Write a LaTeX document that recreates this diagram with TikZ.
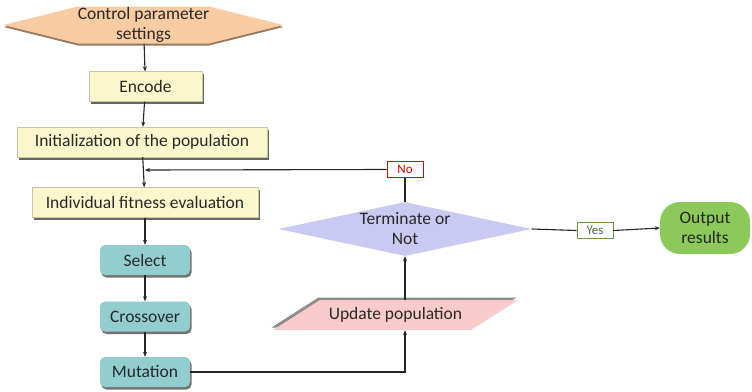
\documentclass[tikz,border=0pt]{standalone}
\usepackage{fontspec}
\setmainfont{Carlito}
\usetikzlibrary{shapes.geometric, shapes.symbols, shadows, arrows.meta}
\definecolor{peach}{RGB}{248,203,160}
\definecolor{cream}{RGB}{251,247,204}
\definecolor{teal}{RGB}{146,205,207}
\definecolor{lilac}{RGB}{201,201,242}
\definecolor{blush}{RGB}{248,202,202}
\definecolor{leaf}{RGB}{141,201,90}
\definecolor{ink}{RGB}{40,40,40}
\tikzstyle{every node}=[text=ink, font=\fontsize{17.5}{20}\selectfont, align=center]
\tikzstyle{stepbox}=[rectangle, fill=cream, draw=cream!80!black, line width=0.3pt, minimum height=30pt,
    drop shadow={shadow xshift=2pt, shadow yshift=-2.5pt, fill=black!60, opacity=1}]
\tikzstyle{opbox}=[rectangle, rounded corners=5pt, fill=teal, minimum width=90pt, minimum height=30pt,
    drop shadow={shadow xshift=1.5pt, shadow yshift=-2.5pt, fill=black!55, opacity=1}]
\tikzstyle{tag}=[rectangle, fill=white, line width=0.8pt, minimum height=16pt, inner sep=1pt, font=\fontsize{13}{14}\selectfont]
\tikzstyle{link}=[line width=1.1pt, black!85]
\tikzstyle{arrow}=[link, -{Stealth[length=5pt, width=4pt]}]

\begin{document}
\begin{tikzpicture}[x=1pt, y=-1pt]
\useasboundingbox (0,0) rectangle (752,391);
% Start
    \node[signal, signal to=west and east, signal pointer angle=28, fill=peach, minimum width=277pt,
        minimum height=37pt, inner sep=0pt, drop shadow={shadow xshift=0pt, shadow yshift=-2pt, fill=peach!60!black, opacity=1}]
        (params) at (143.5,25) {Control parameter\\settings};
% Main column
    \node[stepbox, minimum width=113pt] (encode) at (145.5,86.5) {Encode};
    \node[stepbox, minimum width=250pt] (init) at (142,142) {Initialization of the population};
    \node[stepbox, minimum width=226pt] (fitness) at (145,202.5) {Individual fitness evaluation};
    \node[opbox] (select) at (145,260) {Select};
    \node[opbox] (crossover) at (145,316.5) {Crossover};
    \node[opbox] (mutation) at (145,372) {Mutation};
% Parallelogram, shadow first
    \fill[black!45] (271.5,327.5) -- (318.5,297.5) -- (516.5,297.5) -- (469.5,327.5) -- cycle;
    \fill[blush] (273,330) -- (320,300) -- (518,300) -- (471,330) -- cycle;
    \node[rectangle, minimum width=245pt, minimum height=30pt, inner sep=0pt] (update) at (395.5,315) {Update population};
% Decision
    \node[diamond, fill=lilac, minimum width=253pt, minimum height=54pt, inner sep=0pt, aspect=4.7]
        (dec) at (405,229) {Terminate or\\Not};
    \node[tag, draw=red!85!black, text=red!85!black, minimum width=36pt] (no) at (405,169.5) {No};
    \node[tag, draw=leaf!75!black, text=leaf!55!black, minimum width=36pt] (yes) at (595,230.5) {Yes};
    \node[rectangle, rounded corners=20pt, fill=leaf, minimum width=90pt, minimum height=52pt,
        text=black!85] (output) at (705,228) {Output\\results};
    \coordinate (join) at (145,170);
% Flow
    \draw[arrow] (params) -- (encode);
    \draw[arrow] (encode) -- (init);
    \draw[arrow] (init) -- (fitness);
    \draw[arrow] (fitness) -- (select);
    \draw[arrow] (select) -- (crossover);
    \draw[arrow] (crossover) -- (mutation);
    \draw[arrow] (mutation.east) -| (update.south -| dec.south);
    \draw[arrow] (update.north -| dec.south) -- (dec.south);
    \draw[link] (dec.north) -- (no.south);
    \draw[arrow] (no.west) -- (join);
    \draw[link] (dec.east) -- (yes.west);
    \draw[arrow] (yes.east) -- (output.west);
\end{tikzpicture}
\end{document}
